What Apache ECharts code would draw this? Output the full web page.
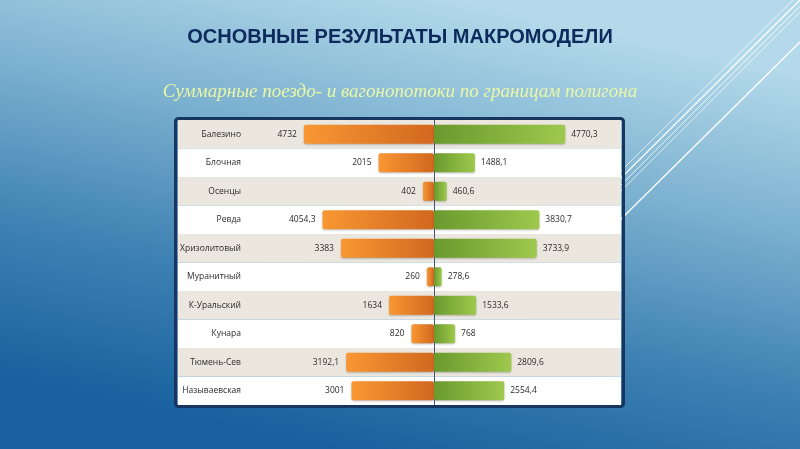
<!DOCTYPE html>
<html>
<head>
<meta charset="utf-8">
<script src="https://cdn.jsdelivr.net/npm/echarts@6/dist/echarts.min.js"></script>
<style>
  html, body { margin: 0; padding: 0; }
  #chart { width: 800px; height: 449px; }
</style>
</head>
<body>
<div id="chart"></div>
<script>
// станции по границам полигона
const stations = ['Балезино', 'Блочная', 'Осенцы', 'Ревда', 'Хризолитовый', 'Муранитный',
  'К-Уральский', 'Кунара', 'Тюмень-Сев', 'Называевская'];
// оранжевые (слева)
const leftValues = [4732, 2015, 402, 4054.3, 3383, 260, 1634, 820, 3192.1, 3001];
// зелёные (справа)
const rightValues = [4770.3, 1488.1, 460.6, 3830.7, 3733.9, 278.6, 1533.6, 768, 2809.6, 2554.4];

const fmt = v => String(Math.abs(v)).replace('.', ',');
const labelFont = { fontFamily: 'Open Sans', fontSize: 8.5, color: '#2b2b2b' };
const stripes = { show: true, areaStyle: { color: ['#ece7de', '#ffffff'] } };
const white = a => 'rgba(255,255,255,' + a + ')';

let myChart = echarts.init(document.getElementById('chart'));

let option = {
  backgroundColor: {
    type: 'linear', x: 0.56, y: 0, x2: 0.44, y2: 1,
    colorStops: [
      { offset: 0, color: '#b3d9ea' },
      { offset: 0.33, color: '#7cb1d0' },
      { offset: 0.67, color: '#3f82b3' },
      { offset: 1, color: '#19629f' }
    ]
  },
  title: [
    {
      text: 'ОСНОВНЫЕ РЕЗУЛЬТАТЫ МАКРОМОДЕЛИ',
      left: 'center', top: 22,
      textStyle: { fontFamily: 'Liberation Sans', fontWeight: 'bold', fontSize: 20, color: '#0c2a5c' }
    },
    {
      text: 'Суммарные поездо- и вагонопотоки по границам полигона',
      left: 'center', top: 77,
      textStyle: { fontFamily: 'Liberation Serif', fontStyle: 'italic', fontWeight: 'normal', fontSize: 19, color: '#e9f7a6' }
    }
  ],
  graphic: [
    { type: 'line', shape: { x1: 620, y1: 172, x2: 793, y2: 0 }, style: { stroke: white(0.85), lineWidth: 0.8 } },
    { type: 'line', shape: { x1: 620, y1: 179, x2: 800, y2: 0 }, style: { stroke: white(0.9), lineWidth: 1.4 } },
    { type: 'line', shape: { x1: 620, y1: 186, x2: 800, y2: 6 }, style: { stroke: white(0.85), lineWidth: 0.9 } },
    { type: 'line', shape: { x1: 620, y1: 192, x2: 800, y2: 12 }, style: { stroke: white(0.8), lineWidth: 0.8 } },
    { type: 'line', shape: { x1: 620, y1: 220, x2: 800, y2: 42 }, style: { stroke: white(0.95), lineWidth: 1.5 } },
    {
      type: 'rect', z: 10,
      shape: { x: 175.5, y: 118.5, width: 448, height: 288, r: 3 },
      style: { fill: null, stroke: '#16365f', lineWidth: 3 }
    }
  ],
  grid: [
    { left: 177, top: 120, width: 70, bottom: 44 },
    { left: 247, top: 120, right: 179, bottom: 44 }
  ],
  xAxis: [
    { gridIndex: 0, type: 'value', show: false },
    {
      gridIndex: 1, type: 'value', min: -6800, max: 6800, interval: 6800,
      axisLine: { show: false }, axisTick: { show: false }, axisLabel: { show: false },
      splitLine: { show: true, lineStyle: { color: ['transparent', '#3f5670', 'transparent'], width: 1 } }
    }
  ],
  yAxis: [
    {
      gridIndex: 0, type: 'category', data: stations, inverse: true, position: 'right',
      axisLine: { show: true, lineStyle: { color: '#6f8bbd', width: 1 } },
      axisTick: { show: false },
      axisLabel: Object.assign({ inside: true, margin: 6 }, labelFont),
      splitLine: { show: false },
      splitArea: stripes
    },
    {
      gridIndex: 1, type: 'category', data: stations, inverse: true,
      axisLine: { show: false }, axisTick: { show: false }, axisLabel: { show: false },
      splitLine: { show: false },
      splitArea: stripes
    }
  ],
  series: [
    {
      name: 'left', type: 'bar', xAxisIndex: 1, yAxisIndex: 1, stack: 'flow',
      data: leftValues.map(v => -v),
      barWidth: 19,
      itemStyle: {
        borderRadius: 2,
        shadowColor: 'rgba(0,0,0,0.25)', shadowBlur: 2, shadowOffsetY: 1,
        color: {
          type: 'linear', x: 0, y: 0, x2: 1, y2: 0,
          colorStops: [{ offset: 0, color: '#f99733' }, { offset: 1, color: '#d1681f' }]
        }
      },
      label: Object.assign({ show: true, position: 'left', distance: 7, formatter: p => fmt(p.value) }, labelFont)
    },
    {
      name: 'right', type: 'bar', xAxisIndex: 1, yAxisIndex: 1, stack: 'flow',
      data: rightValues,
      barWidth: 19,
      itemStyle: {
        borderRadius: 2,
        shadowColor: 'rgba(0,0,0,0.25)', shadowBlur: 2, shadowOffsetY: 1,
        color: {
          type: 'linear', x: 0, y: 0, x2: 1, y2: 0,
          colorStops: [{ offset: 0, color: '#6a992e' }, { offset: 1, color: '#9ec94d' }]
        }
      },
      label: Object.assign({ show: true, position: 'right', distance: 6, formatter: p => fmt(p.value) }, labelFont)
    }
  ]
};

myChart.setOption(option);
</script>
</body>
</html>
